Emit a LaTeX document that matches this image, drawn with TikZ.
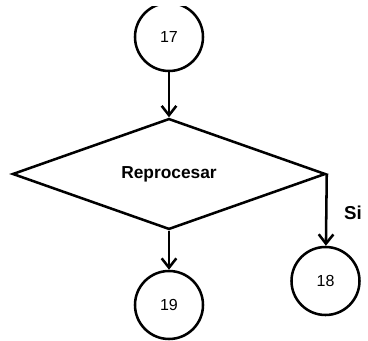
\documentclass[tikz,border=0pt]{standalone}
\usepackage{fontspec}
\setmainfont{Liberation Sans}
\usetikzlibrary{shapes.geometric,arrows.meta}

\tikzset{
  conn/.style={circle,draw,line width=1.9pt,minimum size=51pt,inner sep=0pt,
    font=\fontsize{12}{14}\selectfont},
  decision/.style={diamond,draw,line width=1.9pt,minimum width=234.75pt,
    minimum height=82.5pt,inner sep=0pt,font=\fontsize{13}{15}\selectfont\bfseries},
  flow/.style={line width=1.9pt,-{Straight Barb[length=7pt,width=11pt,line width=1.9pt]}}
}

\begin{document}
\begin{tikzpicture}[x=0.75pt,y=-0.75pt]
            \useasboundingbox (0,0) rectangle (368,341);
            \begin{scope}
            \clip (0,7) rectangle (368,341);
            \node[conn] at (169,37) (c17) {17};
            \node[decision] at (169,174) (rep) {Reprocesar};
            \node[conn] at (325.5,281) (c18) {18};
            \node[conn] at (169,305) (c19) {19};
            \node[font=\fontsize{14}{16}\selectfont\bfseries] at (353,213) (si) {Si};
            \draw[flow] (c17) to (rep.north);
            \draw[flow] (rep.south) to (c19);
            \draw[flow] (rep.east) to (c18);
            \end{scope}
        \end{tikzpicture}
\end{document}
